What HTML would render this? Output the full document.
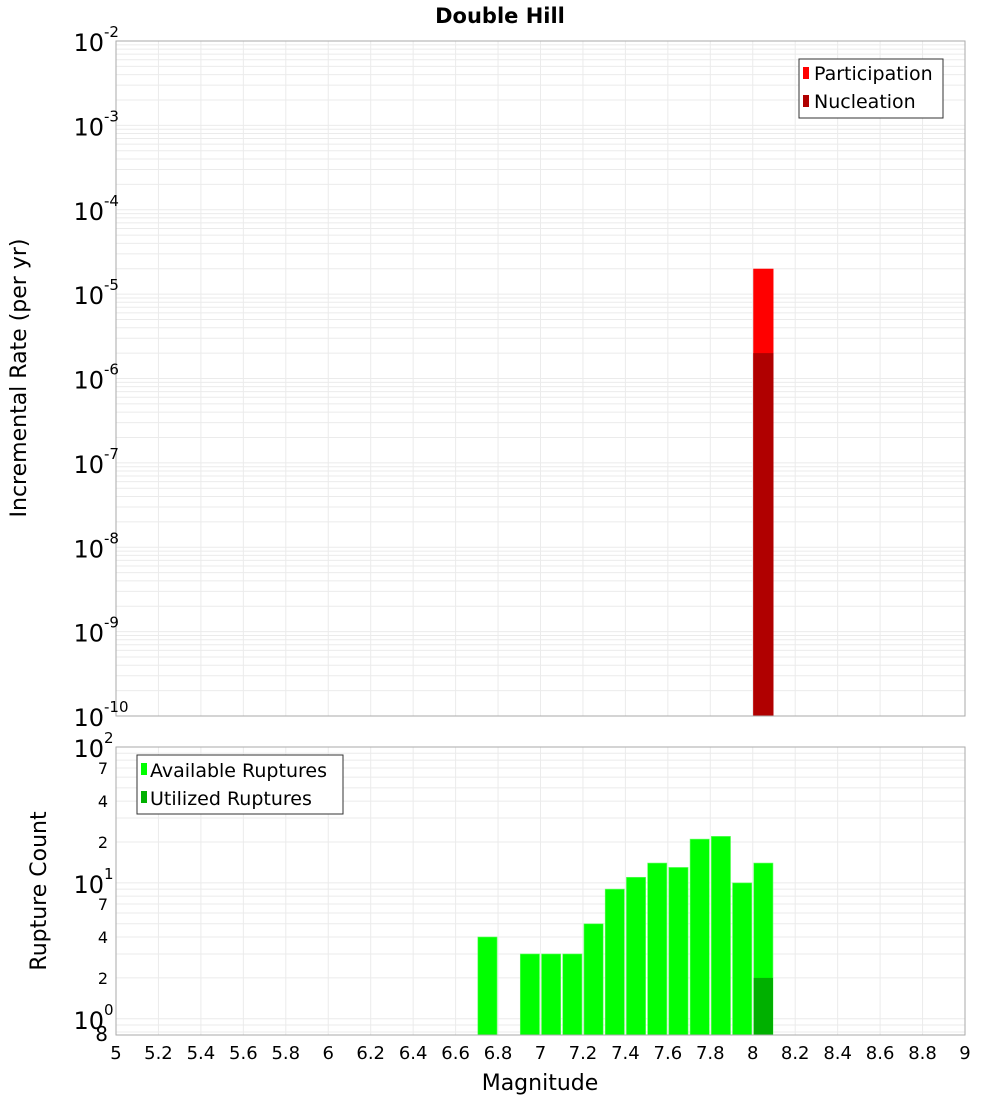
<!DOCTYPE html>
<html><head><meta charset="utf-8"><style>
body{margin:0;background:#fff;font-family:"Liberation Sans","DejaVu Sans",sans-serif}
svg text{font-family:"DejaVu Sans","Liberation Sans",sans-serif}
</style></head><body>
<svg id="c" width="1000" height="1100" xmlns="http://www.w3.org/2000/svg">
<rect width="1000" height="1100" fill="#fff"/>
<text x="500" y="23" text-anchor="middle" font-size="21" font-weight="bold">Double Hill</text>
<g id="topPanel"></g>
<g id="botPanel"></g>
<text transform="translate(26,378) rotate(-90)" text-anchor="middle" font-size="22">Incremental Rate (per yr)</text>
<text transform="translate(46,891) rotate(-90)" text-anchor="middle" font-size="22">Rupture Count</text>
<text x="540" y="1090" text-anchor="middle" font-size="22">Magnitude</text>
<g>
<rect x="799" y="59" width="144" height="59" fill="#fff" stroke="#333"/>
<rect x="803" y="67" width="6" height="12" fill="#ff0000"/><text x="814" y="80" font-size="19">Participation</text>
<rect x="803" y="95" width="6" height="12" fill="#b00000"/><text x="814" y="108" font-size="19">Nucleation</text>
</g>
<g>
<rect x="137" y="755" width="206" height="59" fill="#fff" stroke="#333"/>
<rect x="141" y="763" width="6" height="12" fill="#00ff00"/><text x="150" y="777" font-size="19">Available Ruptures</text>
<rect x="141" y="791" width="6" height="12" fill="#00b000"/><text x="150" y="805" font-size="19">Utilized Ruptures</text>
</g>
</svg>
<script>
const rateMags=[8.0];
const participation=[2e-5];
const nucleation=[2e-6];
const countMags=[6.7,6.8,6.9,7.0,7.1,7.2,7.3,7.4,7.5,7.6,7.7,7.8,7.9,8.0];
const available=[4,0,3,3,3,5,9,11,14,13,21,22,10,14];
const utilized=[0,0,0,0,0,0,0,0,0,0,0,0,0,2];
const xTicks=[5,5.2,5.4,5.6,5.8,6,6.2,6.4,6.6,6.8,7,7.2,7.4,7.6,7.8,8,8.2,8.4,8.6,8.8,9];
const topExps=[-10,-9,-8,-7,-6,-5,-4,-3,-2];
const botMinor=[2,4,7];
const NS='http://www.w3.org/2000/svg';
const X0=116,X1=965;
const xs=m=>X0+(m-5)/4*(X1-X0);
const T0=41,T1=716;
const yTop=v=>T1-(Math.log10(v)+10)/8*(T1-T0);
const B0=747,B1=1035,BMIN=Math.log10(0.76);
const yBot=v=>B1-(Math.log10(v)-BMIN)/(2-BMIN)*(B1-B0);
function el(p,t,a,txt){const e=document.createElementNS(NS,t);for(const k in a)e.setAttribute(k,a[k]);if(txt!==undefined)e.textContent=txt;p.appendChild(e);return e;}
const topG=document.getElementById('topPanel'),botG=document.getElementById('botPanel');
for(const g of [[topG,T0,T1],[botG,B0,B1]]){
 el(g[0],'rect',{x:X0,y:g[1],width:X1-X0,height:g[2]-g[1],fill:'#fff'});
 xTicks.forEach(t=>{const l=el(g[0],'line',{x1:xs(t),x2:xs(t),y1:g[1],y2:g[2],stroke:'#ebebeb'});
 
 });
}
for(let e=-10;e<-2;e++)for(let k=1;k<10;k++){const y=yTop(k*Math.pow(10,e));
 const l=el(topG,'line',{x1:X0,x2:X1,y1:y,y2:y,stroke:'#ebebeb'});
 
 }
for(let e=-1;e<2;e++)for(let k=1;k<10;k++){const v=k*Math.pow(10,e);const y=yBot(v);if(y>B1||y<B0)continue;
 const l=el(botG,'line',{x1:X0,x2:X1,y1:y,y2:y,stroke:'#ebebeb'});
 
 }
rateMags.forEach((m,i)=>{
 const x=xs(m)+0.5,w=xs(m+0.1)-xs(m)-1;
 let b=el(topG,'rect',{x:x,y:yTop(participation[i]),width:w,height:T1-yTop(participation[i]),fill:'#ff0000'});
 
 
 b=el(topG,'rect',{x:x,y:yTop(nucleation[i]),width:w,height:T1-yTop(nucleation[i]),fill:'#b00000'});
 
 
});
countMags.forEach((m,i)=>{
 const x=xs(m)+1,w=xs(m+0.1)-xs(m)-2;
 if(available[i]>0){const b=el(botG,'rect',{x:x,y:yBot(available[i]),width:w,height:B1-yBot(available[i]),fill:'#00ff00',stroke:'#66ff66','stroke-width':0.6});
 
 }
 if(utilized[i]>0){const b=el(botG,'rect',{x:x,y:yBot(utilized[i]),width:w,height:B1-yBot(utilized[i]),fill:'#00b000'});
 
 }
});
for(const g of [[topG,T0,T1],[botG,B0,B1]])el(g[0],'rect',{x:X0,y:g[1],width:X1-X0,height:g[2]-g[1],fill:'none',stroke:'#aaa'});
topExps.forEach(e=>{const y=yTop(Math.pow(10,e));
 const t=el(topG,'text',{x:104,y:y+10,'text-anchor':'end','font-size':24},'10');
 
 
 const s=el(topG,'text',{x:104,y:y-4,'font-size':15},String(e));
 
 });
[[100,'2'],[10,'1'],[1,'0']].forEach(p=>{const y=yBot(p[0]);
 const t=el(botG,'text',{x:104,y:y+10,'text-anchor':'end','font-size':24},'10');
 
 
 const s=el(botG,'text',{x:104,y:y-4,'font-size':15},p[1]);
 
 });
[1,10].forEach(d=>botMinor.forEach(k=>{const y=yBot(k*d);
 const t=el(botG,'text',{x:108,y:y+6,'text-anchor':'end','font-size':16},String(k));
 
 }));
{const t=el(botG,'text',{x:108,y:1041,'text-anchor':'end','font-size':20},'8');
 
 }
xTicks.forEach(t=>{const e=el(botG,'text',{x:xs(t),y:1059,'text-anchor':'middle','font-size':18},String(t));
 
 });
</script>
</body></html>
